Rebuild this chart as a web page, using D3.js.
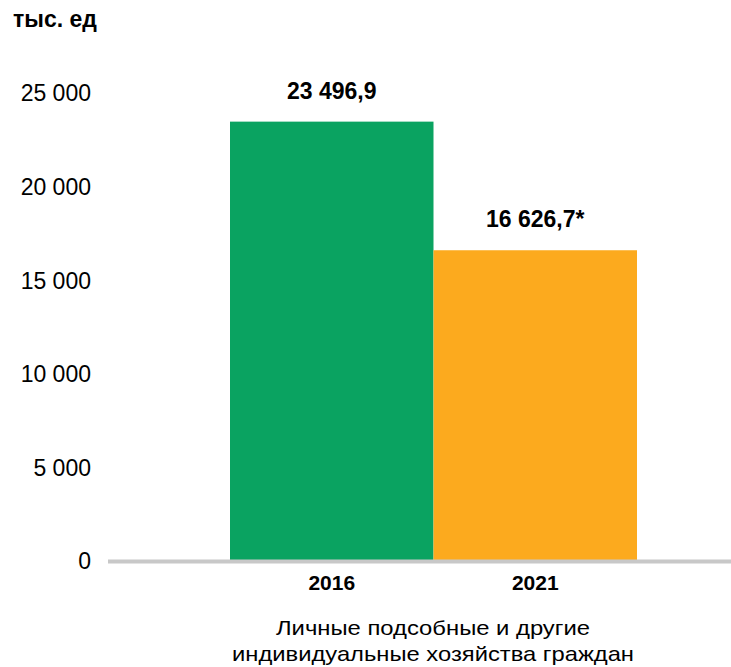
<!DOCTYPE html>
<html>
<head>
<meta charset="utf-8">
<script src="https://cdn.jsdelivr.net/npm/d3@7"></script>
<style>
  body { margin: 0; background: #fff; }
  svg { display: block; font-family: "Liberation Sans", Arial, sans-serif; }
</style>
</head>
<body>
<svg id="chart" width="731" height="667"></svg>
<script>
// data
const years = ["2016", "2021"];
const values = [23496.9, 16626.7];
const valueLabels = ["23 496,9", "16 626,7*"];
const colors = ["#0aa361", "#fcaa1e"];
const yTicks = [0, 5000, 10000, 15000, 20000, 25000];
const unitLabel = "тыс. ед";
const categoryLines = ["Личные подсобные и другие", "индивидуальные хозяйства граждан"];

const svg = d3.select("#chart");

const x = d3.scaleBand().domain(years).range([230, 637]).paddingInner(0).paddingOuter(0);
const y = d3.scaleLinear().domain([0, 25000]).range([561.5, 93.5]);

const fmt = d => d3.format(",")(d).replace(/,/g, " ");

// y tick labels (no axis line)
const yAxis = svg.append("g")
  .attr("transform", "translate(91,0)")
  .call(d3.axisLeft(y).tickValues(yTicks).tickFormat(fmt).tickSize(0).tickPadding(0));
yAxis.select(".domain").remove();
yAxis.selectAll("text")
  .attr("font-family", "Liberation Sans, Arial, sans-serif")
  .attr("font-size", 23)
  .attr("fill", "#000");

// bars
svg.selectAll("rect.bar")
  .data(values)
  .join("rect")
  .attr("class", "bar")
  .attr("x", (d, i) => x(years[i]))
  .attr("width", x.bandwidth())
  .attr("y", d => y(d))
  .attr("height", d => y(0) - y(d))
  .attr("fill", (d, i) => colors[i]);

// baseline
svg.append("line")
  .attr("x1", 108).attr("x2", 731)
  .attr("y1", y(0)).attr("y2", y(0))
  .attr("stroke", "#c8c8c8").attr("stroke-width", 4);

// value labels
svg.selectAll("text.val")
  .data(values)
  .join("text")
  .attr("class", "val")
  .attr("x", (d, i) => x(years[i]) + x.bandwidth() / 2)
  .attr("y", d => y(d) - 23)
  .attr("text-anchor", "middle")
  .attr("font-weight", "bold")
  .attr("font-size", 23)
  .text((d, i) => valueLabels[i]);

// x axis labels
const xAxis = svg.append("g")
  .attr("transform", `translate(0,${y(0)})`)
  .call(d3.axisBottom(x).tickSize(0).tickPadding(14));
xAxis.select(".domain").remove();
xAxis.selectAll("text")
  .attr("font-family", "Liberation Sans, Arial, sans-serif")
  .attr("font-size", 21)
  .attr("font-weight", "bold")
  .attr("fill", "#000");

// category caption, two lines (slightly wide lettering like the original)
const capWidths = [314, 402];
svg.selectAll("text.cap")
  .data(categoryLines)
  .join("text")
  .attr("class", "cap")
  .attr("x", 433)
  .attr("y", (d, i) => 635 + i * 26)
  .attr("text-anchor", "middle")
  .attr("font-size", 21)
  .attr("textLength", (d, i) => capWidths[i])
  .attr("lengthAdjust", "spacingAndGlyphs")
  .text(d => d);

// unit label
svg.append("text")
  .attr("x", 13).attr("y", 27)
  .attr("font-weight", "bold")
  .attr("font-size", 23)
  .text(unitLabel);
</script>
</body>
</html>
